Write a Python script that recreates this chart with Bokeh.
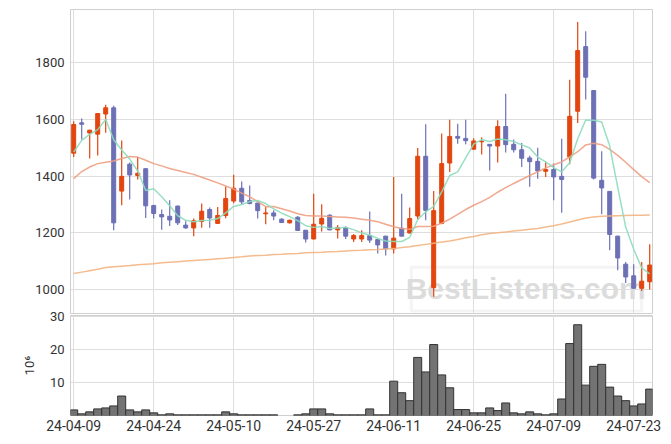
import numpy as np
from bokeh.plotting import figure
from bokeh.layouts import column
from bokeh.models import ColumnDataSource, FixedTicker, Range1d, BoxAnnotation, Label
from bokeh.embed import file_html
from bokeh.resources import INLINE

tick_index = [0, 10, 20, 30, 40, 50, 60, 70]
tick_labels = ["24-04-09", "24-04-24", "24-05-10", "24-05-27",
               "24-06-11", "24-06-25", "24-07-09", "24-07-23"]

opens = [1481, 1588, 1552, 1548, 1619, 1641, 1347, 1442, 1402, 1426,
         1296, 1264, 1258, 1294, 1227, 1217, 1240, 1282, 1233, 1261,
         1312, 1357, 1314, 1305, 1267, 1270, 1248, 1235, 1255, 1209,
         1178, 1231, 1262, 1210, 1218, 1178, 1178, 1190, 1176, 1188,
         1143, 1216, 1199, 1259, 1470, 1006, 1233, 1446, 1540, 1533,
         1495, 1521, 1512, 1506, 1575, 1512, 1493, 1464, 1452, 1417,
         1423, 1399, 1467, 1629, 1857, 1702, 1385, 1346, 1188, 1089,
         1048, 1004, 1027]
highs = [1594, 1603, 1564, 1623, 1652, 1648, 1526, 1448, 1467, 1428,
         1299, 1282, 1315, 1296, 1241, 1250, 1303, 1289, 1291, 1363,
         1405, 1381, 1367, 1306, 1291, 1279, 1251, 1247, 1258, 1210,
         1338, 1301, 1265, 1227, 1223, 1196, 1209, 1275, 1177, 1189,
         1397, 1338, 1289, 1499, 1583, 1347, 1550, 1599, 1585, 1599,
         1534, 1537, 1513, 1597, 1691, 1529, 1517, 1472, 1500, 1449,
         1444, 1532, 1740, 1944, 1911, 1703, 1488, 1347, 1189, 1097,
         1089, 1097, 1159]
lows = [1467, 1529, 1462, 1473, 1553, 1209, 1297, 1317, 1388, 1252,
        1250, 1211, 1224, 1227, 1214, 1188, 1218, 1218, 1233, 1251,
        1304, 1301, 1301, 1250, 1230, 1244, 1234, 1233, 1207, 1166,
        1177, 1204, 1209, 1180, 1178, 1167, 1167, 1164, 1127, 1120,
        1127, 1188, 1198, 1248, 1244, 974, 1230, 1414, 1514, 1512,
        1494, 1476, 1420, 1448, 1483, 1483, 1432, 1362, 1391, 1397,
        1315, 1271, 1442, 1587, 1670, 1388, 1265, 1138, 1068, 1023,
        1004, 994, 1000]
closes = [1582, 1583, 1562, 1621, 1641, 1235, 1399, 1404, 1410, 1295,
          1268, 1256, 1245, 1235, 1217, 1242, 1276, 1252, 1261, 1321,
          1357, 1309, 1303, 1278, 1270, 1259, 1236, 1244, 1208, 1178,
          1230, 1251, 1210, 1218, 1188, 1190, 1190, 1174, 1157, 1143,
          1181, 1188, 1250, 1470, 1279, 1278, 1444, 1540, 1534, 1525,
          1524, 1523, 1506, 1575, 1511, 1493, 1463, 1451, 1418, 1423,
          1397, 1388, 1611, 1843, 1749, 1393, 1358, 1194, 1111, 1044,
          1004, 1029, 1086]

ma_short = [1485, 1526, 1547, 1564, 1600, 1528, 1492, 1460, 1418, 1349,
            1355, 1327, 1295, 1260, 1244, 1239, 1243, 1244, 1250, 1270,
            1293, 1300, 1310, 1314, 1303, 1284, 1269, 1257, 1243, 1225,
            1219, 1222, 1215, 1217, 1219, 1211, 1199, 1192, 1180, 1171,
            1169, 1169, 1184, 1246, 1274, 1293, 1344, 1402, 1415, 1464,
            1513, 1529, 1522, 1531, 1528, 1522, 1510, 1499, 1467, 1450,
            1430, 1415, 1447, 1532, 1598, 1597, 1591, 1507, 1361, 1220,
            1142, 1076, 1055]
ma_mid = [1391, 1416, 1432, 1444, 1449, 1453, 1462, 1469, 1467, 1456,
          1444, 1436, 1427, 1420, 1413, 1406, 1396, 1386, 1376, 1365,
          1354, 1340, 1327, 1310, 1292, 1293, 1285, 1277, 1267, 1261,
          1259, 1259, 1257, 1256, 1255, 1252, 1248, 1244, 1239, 1230,
          1221, 1215, 1212, 1222, 1222, 1223, 1234, 1248, 1265, 1282,
          1297, 1310, 1325, 1343, 1359, 1374, 1388, 1402, 1415, 1429,
          1440, 1450, 1468, 1486, 1510, 1516, 1511, 1494, 1473, 1449,
          1423, 1398, 1377]
ma_long = [1056, 1061, 1066, 1071, 1077, 1080, 1082, 1084, 1087, 1089,
           1091, 1094, 1096, 1098, 1100, 1102, 1104, 1106, 1108, 1110,
           1113, 1115, 1118, 1120, 1121, 1123, 1124, 1126, 1127, 1129,
           1130, 1131, 1133, 1134, 1136, 1137, 1138, 1140, 1141, 1143,
           1144, 1148, 1151, 1155, 1159, 1163, 1167, 1171, 1176, 1182,
           1187, 1193, 1197, 1200, 1203, 1206, 1209, 1212, 1215, 1220,
           1225, 1231, 1238, 1245, 1252, 1256, 1258, 1259, 1260, 1261,
           1262, 1262, 1263]

nan = float("nan")
volume = [1.7, 0.5, 1.1, 2.0, 2.3, 2.9, 5.9, 1.7, 1.1, 1.7,
          0.8, 0.2, 0.5, 0.2, 0.2, 0.2, 0.2, 0.2, 0.2, 1.1,
          0.5, 0.2, 0.2, 0.2, 0.2, 0.2, nan, nan, 0.2, 0.5,
          2.0, 2.0, 0.5, 0.2, 0.2, 0.2, 0.2, 2.0, 0.2, 0.2,
          10.4, 6.9, 4.5, 17.6, 13.2, 21.5, 12.3, 8.4, 1.8, 1.8,
          0.8, 0.8, 2.3, 1.5, 3.8, 0.8, 0.5, 1.1, 0.5, 0.2,
          0.5, 5.0, 21.8, 27.5, 9.2, 14.9, 15.5, 8.6, 5.9, 4.5,
          2.9, 3.5, 8.0]

UP = "#e2450e"
DOWN = "#6c70b4"
TEXT = "#333333"
GRID = "#dedede"
FRAME = "#cfcfcf"

n = len(closes)
x = np.arange(n)
o = np.array(opens, dtype=float)
c = np.array(closes, dtype=float)
src = ColumnDataSource(dict(
    x=x, o=o, h=np.array(highs, float), l=np.array(lows, float), c=c,
    top=np.maximum(o, c), bottom=np.minimum(o, c),
    color=[UP if cc >= oo else DOWN for oo, cc in zip(opens, closes)],
    vol=np.array(volume, float),
    ma_s=np.array(ma_short, float), ma_m=np.array(ma_mid, float),
    ma_l=np.array(ma_long, float),
))

x_range = Range1d(-0.4, 72.35)

p = figure(width=662, height=314, x_range=x_range, y_range=Range1d(915, 1988),
           output_backend="svg", toolbar_location=None,
           min_border_left=70, min_border_right=10, min_border_top=9,
           min_border_bottom=1)
p.xaxis.visible = False
p.xgrid.ticker = FixedTicker(ticks=tick_index)
p.yaxis.ticker = FixedTicker(ticks=[1000, 1200, 1400, 1600, 1800])
for g in (p.xgrid, p.ygrid):
    g.grid_line_color = GRID
p.yaxis.axis_line_color = None
p.yaxis.major_tick_line_color = None
p.yaxis.minor_tick_line_color = None
p.yaxis.major_tick_out = 0
p.yaxis.major_tick_in = 0
p.yaxis.major_label_standoff = 6
p.yaxis.major_label_text_font = "Roboto"
p.yaxis.major_label_text_font_size = "13px"
p.yaxis.major_label_text_color = TEXT
p.outline_line_color = FRAME

wm_box = BoxAnnotation(left=42.2, right=71.0, top=1078, bottom=924,
                       fill_alpha=0, line_color="#d9d9d9", line_width=3,
                       level="underlay")
p.add_layout(wm_box)
wm = Label(x=56.5, y=1003, text="BestListens.com", text_align="center",
           text_baseline="middle", text_font="Liberation Sans",
           text_font_style="bold", text_font_size="30px", text_color="#dcdcdc",
           level="underlay")
p.add_layout(wm)

p.segment(x0="x", y0="h", x1="x", y1="l", color="color", line_width=1.2, source=src)
p.vbar(x="x", width=0.5, top="top", bottom="bottom", fill_color="color",
       line_color="color", line_width=1, source=src)

p.line("x", "ma_l", source=src, color="#f2b482", line_width=1.5, alpha=0.9)
p.line("x", "ma_m", source=src, color="#ee9f82", line_width=1.5, alpha=0.9)
p.line("x", "ma_s", source=src, color="#8ddbbd", line_width=1.5, alpha=0.9)

v = figure(width=662, height=135, x_range=x_range, y_range=Range1d(0, 30.3),
           output_backend="svg", toolbar_location=None,
           min_border_left=70, min_border_right=10, min_border_top=9,
           min_border_bottom=26, margin=(-8, 0, 0, 0))
v.border_fill_color = None
v.vbar(x="x", top="vol", width=1.0, fill_color="#737373", line_color="#333333",
       line_width=1, source=src)
v.xaxis.ticker = FixedTicker(ticks=tick_index)
v.xaxis.major_label_overrides = {t: lab for t, lab in zip(tick_index, tick_labels)}
v.yaxis.ticker = FixedTicker(ticks=[10, 20, 30])
for ax in (v.xaxis, v.yaxis):
    ax.axis_line_color = None
    ax.major_tick_line_color = None
    ax.minor_tick_line_color = None
    ax.major_tick_out = 0
    ax.major_tick_in = 0
    ax.major_label_text_font = "Roboto"
    ax.major_label_text_color = TEXT
v.xaxis.major_label_text_font_size = "14px"
v.xaxis.major_label_standoff = 4
v.yaxis.major_label_text_font_size = "13px"
v.yaxis.major_label_standoff = 6
v.yaxis.axis_label = "10⁶"
v.yaxis.axis_label_text_font = "Roboto"
v.yaxis.axis_label_text_font_style = "normal"
v.yaxis.axis_label_text_font_size = "13px"
v.yaxis.axis_label_text_color = TEXT
v.yaxis.axis_label_standoff = 10
for g in (v.xgrid, v.ygrid):
    g.grid_line_color = GRID
v.outline_line_color = FRAME

layout = column(p, v)
open("out.html", "w").write(file_html(layout, INLINE))
